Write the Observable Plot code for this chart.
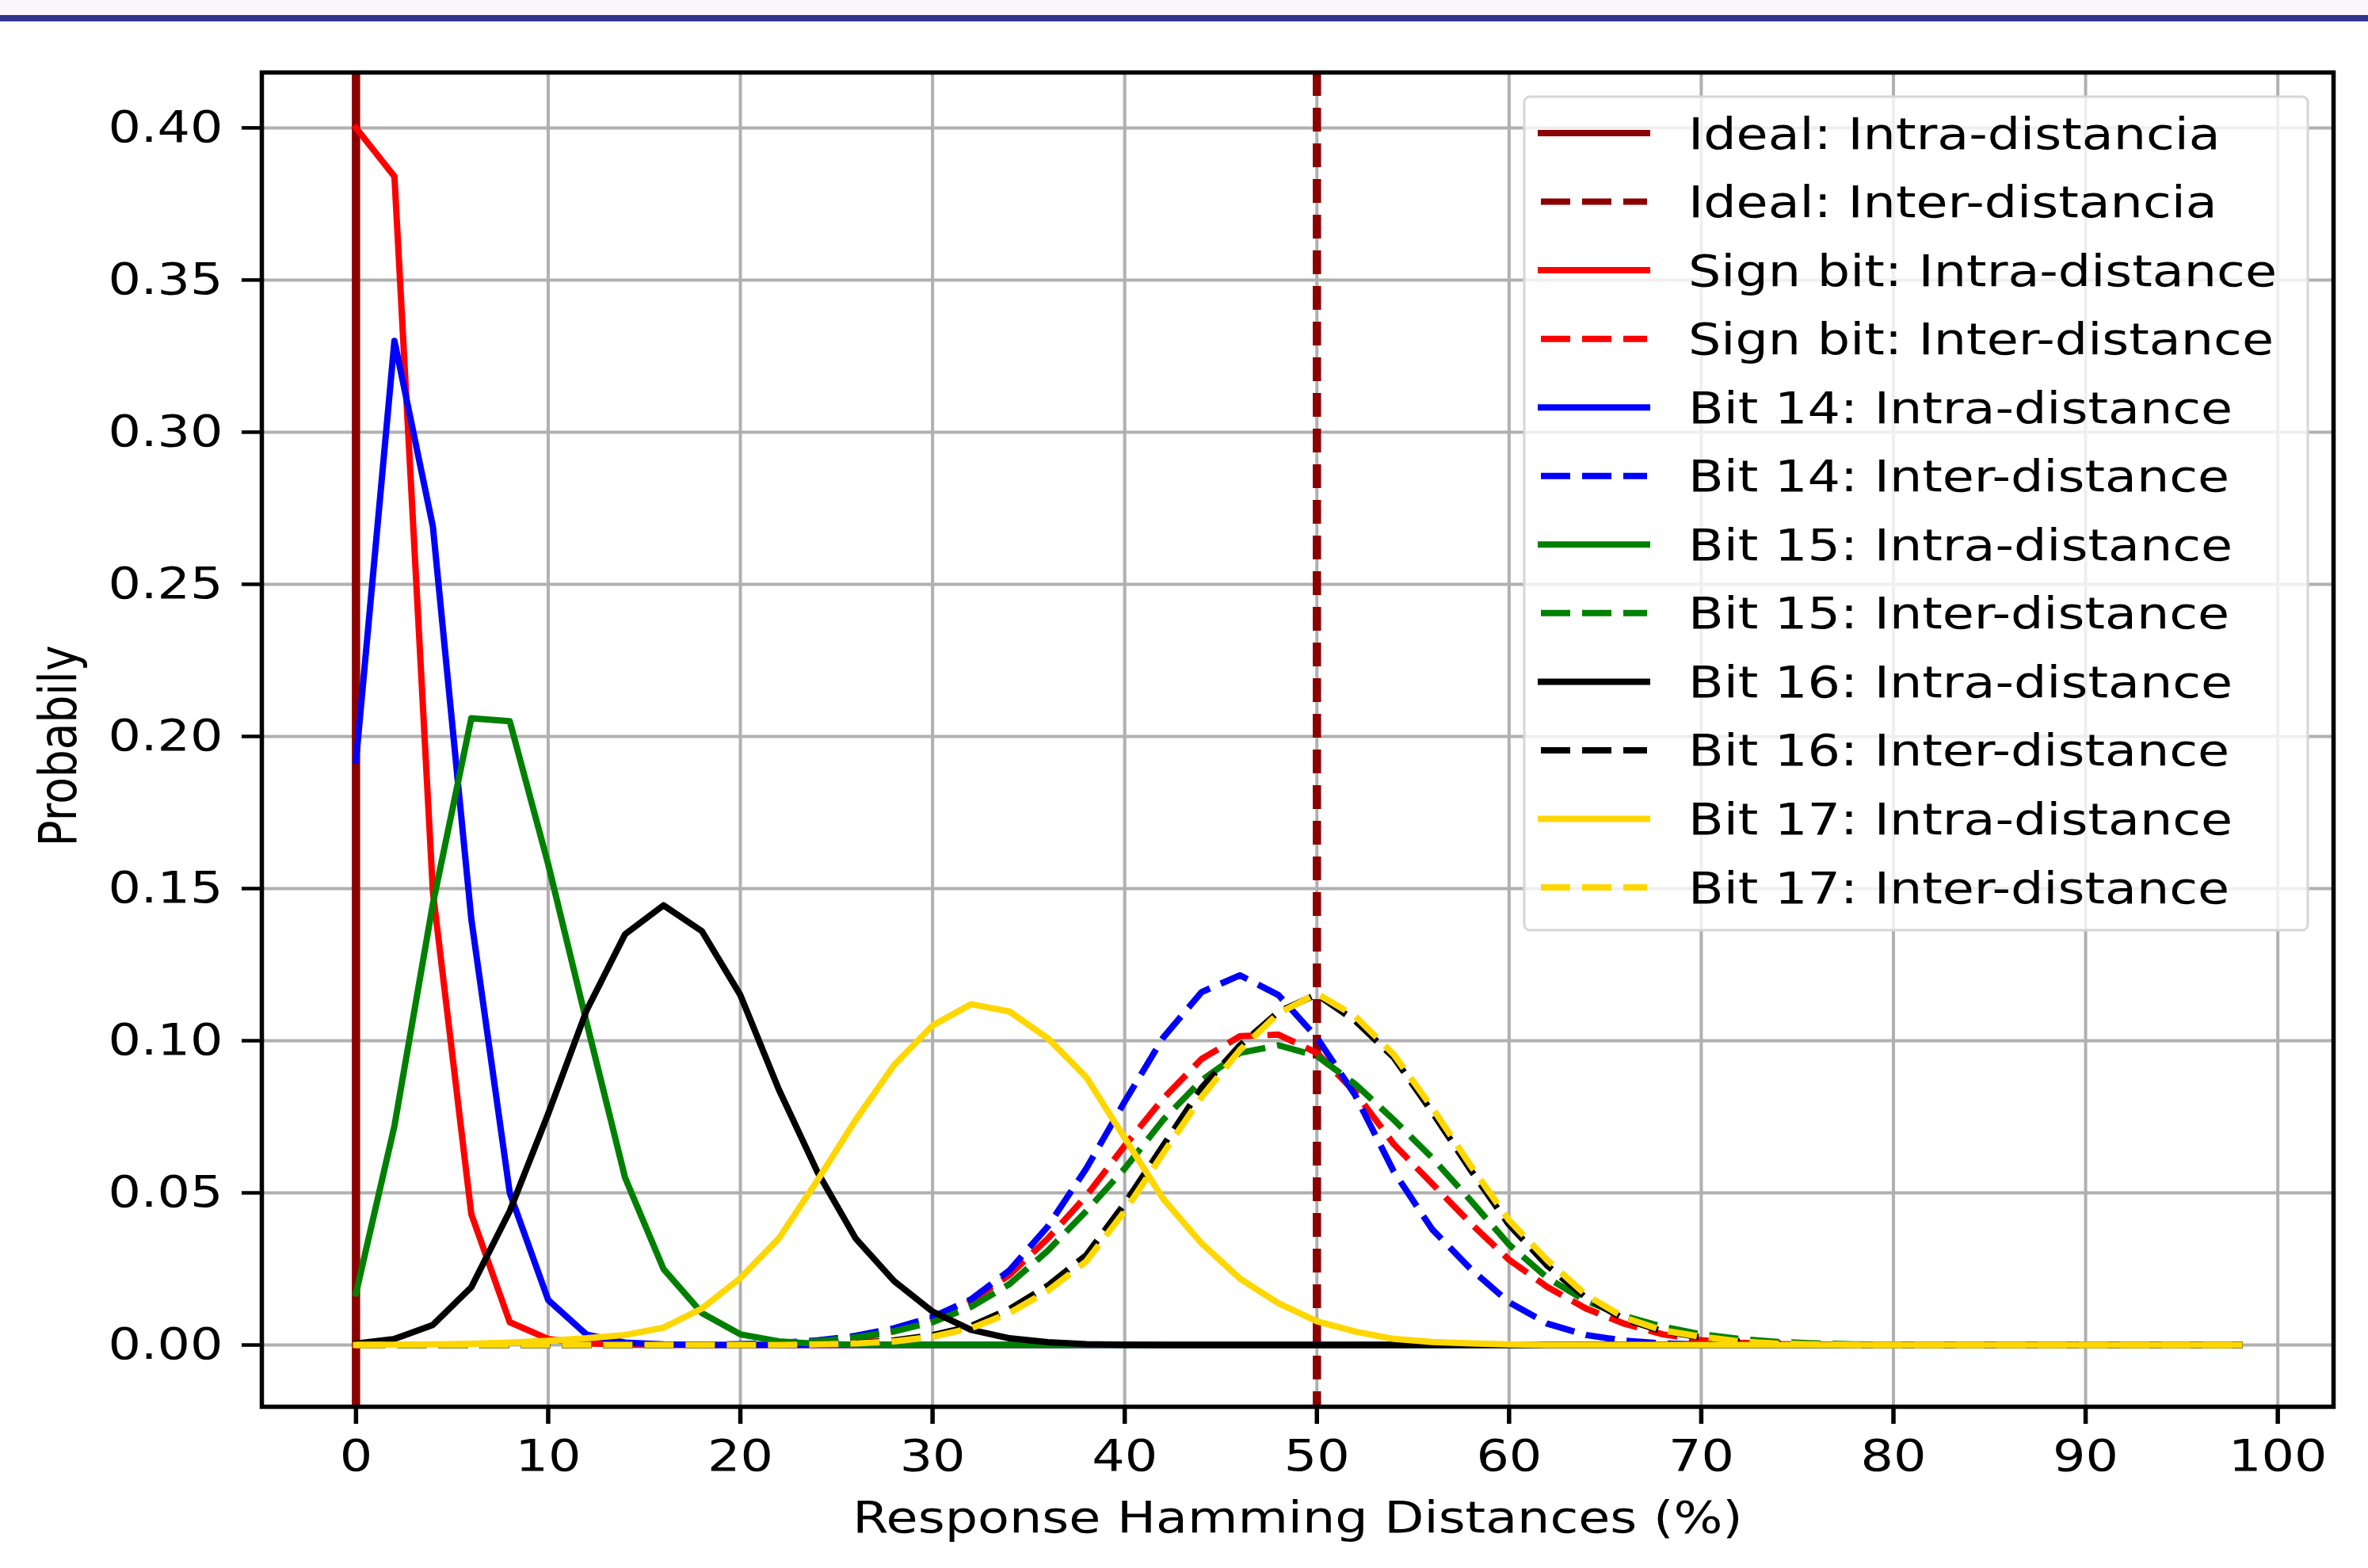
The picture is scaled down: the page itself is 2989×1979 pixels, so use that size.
<!DOCTYPE html>
<html>
<head>
<meta charset="utf-8">
<script src="https://cdn.jsdelivr.net/npm/d3@7"></script>
<script src="https://cdn.jsdelivr.net/npm/@observablehq/plot@0.6"></script>
<style>
html, body { margin: 0; padding: 0; background: #ffffff; }
#wrap { position: relative; width: 2989px; height: 1979px; overflow: hidden; background: #ffffff; }
#overlay { position: absolute; left: 0; top: 0; pointer-events: none; }
</style>
</head>
<body>
<div id="wrap"></div>
<script>
// ---------- data ----------
const hd = [0,2,4,6,8,10,12,14,16,18,20,22,24,26,28,30,32,34,36,38,40,42,44,46,48,50,52,54,56,58,60,62,64,66,68,70,72,74,76,78,80,82,84,86,88,90,92,94,96,98];

const signIntra = [0.400,0.384,0.149,0.043,0.0075,0.002,0.0005,0.0001,0,0,0,0,0,0,0,0,0,0,0,0,0,0,0,0,0,0,0,0,0,0,0,0,0,0,0,0,0,0,0,0,0,0,0,0,0,0,0,0,0,0];
const signInter = [0,0,0,0,0,0,0,0,0,0,0.0001,0.0003,0.0008,0.002,0.0045,0.0085,0.0145,0.023,0.035,0.049,0.0655,0.081,0.094,0.1015,0.102,0.096,0.083,0.066,0.053,0.040,0.028,0.019,0.012,0.007,0.0035,0.0016,0.0007,0.0003,0.0001,0,0,0,0,0,0,0,0,0,0,0];
const bit14Intra = [0.192,0.330,0.269,0.140,0.050,0.0148,0.0034,0.0008,0.0002,0,0,0,0,0,0,0,0,0,0,0,0,0,0,0,0,0,0,0,0,0,0,0,0,0,0,0,0,0,0,0,0,0,0,0,0,0,0,0,0,0];
const bit14Inter = [0,0,0,0,0,0,0,0,0,0.0001,0.0003,0.0007,0.0015,0.003,0.0055,0.0092,0.015,0.0245,0.039,0.058,0.080,0.101,0.116,0.1215,0.115,0.101,0.082,0.057,0.038,0.025,0.014,0.007,0.0033,0.0014,0.0005,0.0002,0,0,0,0,0,0,0,0,0,0,0,0,0,0];
const bit15Intra = [0.017,0.072,0.145,0.206,0.205,0.158,0.106,0.055,0.025,0.0105,0.0035,0.0012,0.0004,0.0001,0,0,0,0,0,0,0,0,0,0,0,0,0,0,0,0,0,0,0,0,0,0,0,0,0,0,0,0,0,0,0,0,0,0,0,0];
const bit15Inter = [0,0,0,0,0,0,0,0,0,0,0.0002,0.0005,0.0012,0.0025,0.0045,0.0075,0.0125,0.020,0.031,0.044,0.058,0.074,0.087,0.096,0.0985,0.095,0.0857,0.074,0.0615,0.0475,0.033,0.022,0.0145,0.0095,0.006,0.0035,0.002,0.001,0.0005,0.0002,0.0001,0,0,0,0,0,0,0,0,0];
const bit16Intra = [0.0005,0.002,0.0066,0.019,0.044,0.076,0.110,0.135,0.1445,0.136,0.115,0.084,0.057,0.035,0.021,0.011,0.005,0.0022,0.0009,0.0003,0.0001,0,0,0,0,0,0,0,0,0,0,0,0,0,0,0,0,0,0,0,0,0,0,0,0,0,0,0,0,0];
const bit16Inter = [0,0,0,0,0,0,0,0,0,0,0,0,0.0002,0.0006,0.0015,0.0032,0.0062,0.0118,0.0195,0.0295,0.0465,0.0655,0.0845,0.0985,0.1095,0.1152,0.1065,0.0945,0.0765,0.0575,0.0395,0.026,0.0155,0.0085,0.0045,0.0025,0.0011,0.0005,0.0002,0,0,0,0,0,0,0,0,0,0,0];
const bit17Intra = [0,0.0001,0.0002,0.0004,0.0008,0.0014,0.0022,0.0033,0.0057,0.012,0.022,0.035,0.054,0.074,0.092,0.105,0.112,0.1096,0.1008,0.088,0.068,0.048,0.0334,0.0218,0.0137,0.0078,0.0044,0.002,0.001,0.0005,0.0002,0,0,0,0,0,0,0,0,0,0,0,0,0,0,0,0,0,0,0];
const bit17Inter = [0,0,0,0,0,0,0,0,0,0,0,0,0.0002,0.0005,0.0012,0.0027,0.0055,0.0105,0.0178,0.0275,0.044,0.063,0.0815,0.097,0.109,0.1155,0.108,0.0955,0.078,0.059,0.041,0.0278,0.0165,0.009,0.0048,0.0027,0.0012,0.0005,0.0002,0,0,0,0,0,0,0,0,0,0,0];

const idealIntra = [0];
const idealInter = [50];

const legendLabels = [
  "Ideal: Intra-distancia", "Ideal: Inter-distancia",
  "Sign bit: Intra-distance", "Sign bit: Inter-distance",
  "Bit 14: Intra-distance", "Bit 14: Inter-distance",
  "Bit 15: Intra-distance", "Bit 15: Inter-distance",
  "Bit 16: Intra-distance", "Bit 16: Inter-distance",
  "Bit 17: Intra-distance", "Bit 17: Inter-distance"
];
const xTicks = [0,10,20,30,40,50,60,70,80,90,100];
const yTicks = [0,0.05,0.10,0.15,0.20,0.25,0.30,0.35,0.40];
const xLabel = "Response Hamming Distances (%)";
const yLabel = "Probabily";

// ---------- styles ----------
const DARKRED = "#8b0000";
const curveValues = [signIntra, signInter, bit14Intra, bit14Inter, bit15Intra, bit15Inter, bit16Intra, bit16Inter, bit17Intra, bit17Inter];
const curveColors = ["#ff0000","#ff0000","#0000ff","#0000ff","#008000","#008000","#000000","#000000","#ffd700","#ffd700"];
const curveDashed = [false,true,false,true,false,true,false,true,false,true];
const DASH = "37,15";
const FONT = "DejaVu Sans";
const FS = 55;
const STRETCH = 1.185;

const series = curveValues.map((vals, k) => ({
  name: legendLabels[k + 2],
  color: curveColors[k],
  dashed: curveDashed[k],
  rows: hd.map((x, i) => ({x, y: vals[i]}))
}));

const chart = Plot.plot({
  width: 2989,
  height: 1979,
  marginLeft: 330,
  marginRight: 44,
  marginTop: 91,
  marginBottom: 204,
  style: {fontFamily: FONT, fontSize: FS + "px", color: "#000", background: "#ffffff", overflow: "visible"},
  x: {domain: [-4.9, 102.9]},
  y: {domain: [-0.0203, 0.4182]},
  marks: [
    Plot.ruleX(xTicks, {stroke: "#b0b0b0", strokeWidth: 4}),
    Plot.ruleY(yTicks, {stroke: "#b0b0b0", strokeWidth: 4}),
    Plot.ruleX(idealIntra, {stroke: DARKRED, strokeWidth: 10.5}),
    Plot.ruleX(idealInter, {stroke: DARKRED, strokeWidth: 10.5, strokeDasharray: "30,15"}),
    ...series.map(s => Plot.line(s.rows, {
      x: "x", y: "y",
      stroke: s.color,
      strokeWidth: 8,
      strokeDasharray: s.dashed ? DASH : undefined,
      strokeLinecap: s.dashed ? "butt" : "square",
      strokeLinejoin: "round",
      curve: "linear"
    })),
    Plot.axisX({ticks: xTicks, tickSize: 22, tickPadding: 19, strokeWidth: 5.5, tickFormat: d => String(d), label: null, fontSize: FS, fill: "#000"}),
    Plot.axisY({ticks: yTicks, tickSize: 25, tickPadding: 24, strokeWidth: 4.5, tickFormat: d3.format(".2f"), label: null, fontSize: FS, fill: "#000"}),
    Plot.text([xLabel], {text: d => d, frameAnchor: "bottom", lineAnchor: "top", textAnchor: "middle", dy: 119, fontSize: FS, fill: "#000"}),
    Plot.text([yLabel], {text: d => d, frameAnchor: "left", textAnchor: "middle", lineAnchor: "middle", rotate: -90, dx: -255, dy: 8, fontSize: FS, fill: "#000"}),
    Plot.frame({stroke: "#000", strokeWidth: 5.5})
  ]
});

// the source picture is stretched horizontally: widen glyphs around their anchors
d3.select(chart).selectAll("text").each(function () {
  const t = this.getAttribute("transform") || "";
  const rotated = /rotate\(\s*-?90\s*\)/.test(t);
  this.setAttribute("transform", t + (rotated ? ` scale(1,${STRETCH})` : ` scale(${STRETCH},1)`));
});

document.getElementById("wrap").appendChild(chart);

// ---------- overlay: page band + legend ----------
const ov = d3.select("#wrap").append("svg")
  .attr("id", "overlay")
  .attr("width", 2989).attr("height", 1979);

ov.append("rect").attr("x", 0).attr("y", 0).attr("width", 2989).attr("height", 19).attr("fill", "#fbf6f9");
ov.append("rect").attr("x", 0).attr("y", 19).attr("width", 2989).attr("height", 8).attr("fill", "#30348f");

const legendItems = [
  {name: legendLabels[0], color: DARKRED, dashed: false},
  {name: legendLabels[1], color: DARKRED, dashed: true},
  ...series.map(s => ({name: s.name, color: s.color, dashed: s.dashed}))
];

const lg = ov.append("g");
lg.append("rect")
  .attr("x", 1924).attr("y", 122).attr("width", 989).attr("height", 1052)
  .attr("rx", 7).attr("ry", 7)
  .attr("fill", "#ffffff").attr("fill-opacity", 0.8)
  .attr("stroke", "#d6d6d6").attr("stroke-width", 3);

legendItems.forEach((it, i) => {
  const cy = 168 + i * 86.55;
  lg.append("line")
    .attr("x1", 1945).attr("x2", 2079)
    .attr("y1", cy).attr("y2", cy)
    .attr("stroke", it.color).attr("stroke-width", 8)
    .attr("stroke-linecap", it.dashed ? "butt" : "square")
    .attr("stroke-dasharray", it.dashed ? DASH : null);
  lg.append("text")
    .attr("transform", `translate(2131,${cy + 19.5}) scale(${STRETCH},1)`)
    .attr("font-family", FONT)
    .attr("font-size", FS)
    .attr("fill", "#000")
    .text(it.name);
});
</script>
</body>
</html>
